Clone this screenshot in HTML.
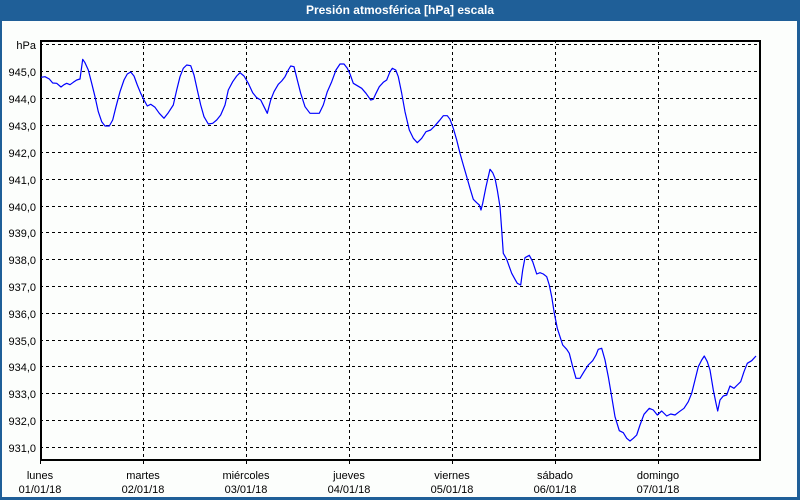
<!DOCTYPE html>
<html><head><meta charset="utf-8"><style>
html,body{margin:0;padding:0;}
body{width:800px;height:500px;overflow:hidden;background:#1f5f98;position:relative;font-family:"Liberation Sans",sans-serif;}
#bar{position:absolute;left:0;top:0;width:800px;height:21px;color:#fff;font-weight:bold;font-size:12px;line-height:21px;text-align:center;}
#panel{position:absolute;left:2px;top:21px;width:795px;height:476px;background:#fcfefc;}
svg{position:absolute;left:0;top:0;}
</style></head><body>
<div id="bar">Presión atmosférica [hPa] escala</div>
<div id="panel"></div>
<svg width="800" height="500" viewBox="0 0 800 500" xmlns="http://www.w3.org/2000/svg">
<g stroke="#000" stroke-width="1" stroke-dasharray="3,3" fill="none" shape-rendering="crispEdges">
<line x1="40" y1="44.5" x2="760" y2="44.5"/>
<line x1="40" y1="71.5" x2="760" y2="71.5"/>
<line x1="40" y1="98.5" x2="760" y2="98.5"/>
<line x1="40" y1="125.5" x2="760" y2="125.5"/>
<line x1="40" y1="152.5" x2="760" y2="152.5"/>
<line x1="40" y1="179.5" x2="760" y2="179.5"/>
<line x1="40" y1="206.5" x2="760" y2="206.5"/>
<line x1="40" y1="232.5" x2="760" y2="232.5"/>
<line x1="40" y1="259.5" x2="760" y2="259.5"/>
<line x1="40" y1="286.5" x2="760" y2="286.5"/>
<line x1="40" y1="313.5" x2="760" y2="313.5"/>
<line x1="40" y1="340.5" x2="760" y2="340.5"/>
<line x1="40" y1="366.5" x2="760" y2="366.5"/>
<line x1="40" y1="393.5" x2="760" y2="393.5"/>
<line x1="40" y1="420.5" x2="760" y2="420.5"/>
<line x1="40" y1="447.5" x2="760" y2="447.5"/>
<line x1="143.5" y1="40" x2="143.5" y2="460"/>
<line x1="246.5" y1="40" x2="246.5" y2="460"/>
<line x1="349.5" y1="40" x2="349.5" y2="460"/>
<line x1="452.5" y1="40" x2="452.5" y2="460"/>
<line x1="555.5" y1="40" x2="555.5" y2="460"/>
<line x1="658.5" y1="40" x2="658.5" y2="460"/>
</g>
<g stroke="#000" stroke-width="1" shape-rendering="crispEdges">
<line x1="40.5" y1="460" x2="40.5" y2="464"/>
<line x1="143.5" y1="460" x2="143.5" y2="464"/>
<line x1="246.5" y1="460" x2="246.5" y2="464"/>
<line x1="349.5" y1="460" x2="349.5" y2="464"/>
<line x1="452.5" y1="460" x2="452.5" y2="464"/>
<line x1="555.5" y1="460" x2="555.5" y2="464"/>
<line x1="658.5" y1="460" x2="658.5" y2="464"/>
</g>
<rect x="41" y="41" width="719" height="419" fill="none" stroke="#000" stroke-width="2" shape-rendering="crispEdges"/>
<polyline fill="none" stroke="#0000ff" stroke-width="1.2" stroke-linejoin="round" points="
41,77.3 45,76.7 49.3,79 52.7,83 56.7,83.3 61,87 64,84.7 66.7,83.3 70,84.7 73.3,82.3 76.7,80 80,79 82.7,59.3 85,62.7 88.3,70 91.7,83.3 95,96.7 98.3,111.7 101.7,121.7 105,126 109.3,126 112.7,120 116,106.7 120,91.7 124,80 127.3,74 130.7,72 134,76 137.3,85 140.7,93.3 144,100 147.3,106 150.7,104.3 155,107.3 159.3,113.3 164,118.3 168.3,112.7 173.3,105 176.7,90 180,76.7 183.3,68.3 186.7,65 190.7,65.7 194,75 197.3,90 200.7,105 204,116.7 208.3,124 212.7,123.3 216.7,120 220.7,115 225,105 228.3,90 232.7,81.7 236.7,76 240,72.7 244,76 248.3,83.3 252.7,92.7 256.7,97.7 260.7,100 264,106.7 267.3,113.3 270.7,100 274,91.7 278.3,84.3 281.7,81 285,76.7 288.3,70 290.7,66 294,66.7 297.3,80 300.7,93.3 305,106.7 310,113.3 319.3,113.3 323.3,105 327.3,91.7 331.7,81.7 336,70 340,64 344,64 347.3,68.3 350,74 353.3,83.3 357.3,85.7 361.7,88.3 366,93.3 370.7,100 373.3,99.3 376,93.3 379.3,86.7 383.3,82.3 386.7,80 390,71.7 392.3,68.3 395.7,70 398.3,76.7 401.7,93.3 405,111.7 409.3,130 413.3,138.3 417.3,142.7 421.7,138.3 426,131.7 430.7,130 435,125.7 439.3,120.7 443.3,115.7 447.3,115.7 450,119.3 453.3,128.3 456.7,140 460,153.3 463.3,165 466.7,176.7 470,188.3 473.3,199.3 476.7,202.7 479.3,205 481,210 482.7,203.3 486,186.7 490,169.3 492.7,172.7 495,178.3 497.3,190 500,206.7 501.7,230 503.3,253.3 506.7,259.3 509.3,266.7 511.7,273.3 515,279.3 517.3,283.3 520.7,285 522.7,270 525,257.7 529.3,255.3 532.7,261.7 536.7,274 540,272.7 543.3,274 546.7,276.7 549.3,285 551.7,296.7 554.3,313.3 557.3,328.3 560,336.7 562.7,345 566.7,349.3 569.3,353.3 572.7,366.7 576,378.3 580,378.3 584,371.7 588.3,365 592.7,360.7 596,355 598.3,349.3 601.7,348.3 605,360 608.3,376.7 611.7,396.7 615,416.7 619.3,430.7 623.3,432.7 626.7,438.3 630,441 633.3,438.3 636.7,435 640,425 644,414.3 649.3,408.3 653.3,410 657.3,415 661.7,411 666.7,416 670.7,414 675,415 679.3,411.7 684,408.3 688.3,401.7 691.7,393.3 695,380 698.3,366.7 701.7,360 704.3,356 707.3,361.7 710,370 713.3,390 716,403.3 717.7,411 720,400 723.3,396 726.7,395 730,386 734,388.3 737.3,385 740.7,381.7 744,371.7 747.3,363.3 751.7,360.7 756,356"/>
<g font-family="Liberation Sans, sans-serif" font-size="11" fill="#000" text-anchor="end">
<text x="36" y="49">hPa</text>
<text x="36" y="76">945,0</text>
<text x="36" y="103">944,0</text>
<text x="36" y="130">943,0</text>
<text x="36" y="157">942,0</text>
<text x="36" y="184">941,0</text>
<text x="36" y="211">940,0</text>
<text x="36" y="237">939,0</text>
<text x="36" y="264">938,0</text>
<text x="36" y="291">937,0</text>
<text x="36" y="318">936,0</text>
<text x="36" y="345">935,0</text>
<text x="36" y="371">934,0</text>
<text x="36" y="398">933,0</text>
<text x="36" y="425">932,0</text>
<text x="36" y="452">931,0</text>
</g>
<g font-family="Liberation Sans, sans-serif" font-size="11" fill="#000" text-anchor="middle">
<text x="40" y="479">lunes</text><text x="40" y="493">01/01/18</text>
<text x="143" y="479">martes</text><text x="143" y="493">02/01/18</text>
<text x="246" y="479">miércoles</text><text x="246" y="493">03/01/18</text>
<text x="349" y="479">jueves</text><text x="349" y="493">04/01/18</text>
<text x="452" y="479">viernes</text><text x="452" y="493">05/01/18</text>
<text x="555" y="479">sábado</text><text x="555" y="493">06/01/18</text>
<text x="658" y="479">domingo</text><text x="658" y="493">07/01/18</text>
</g>
</svg>
</body></html>
